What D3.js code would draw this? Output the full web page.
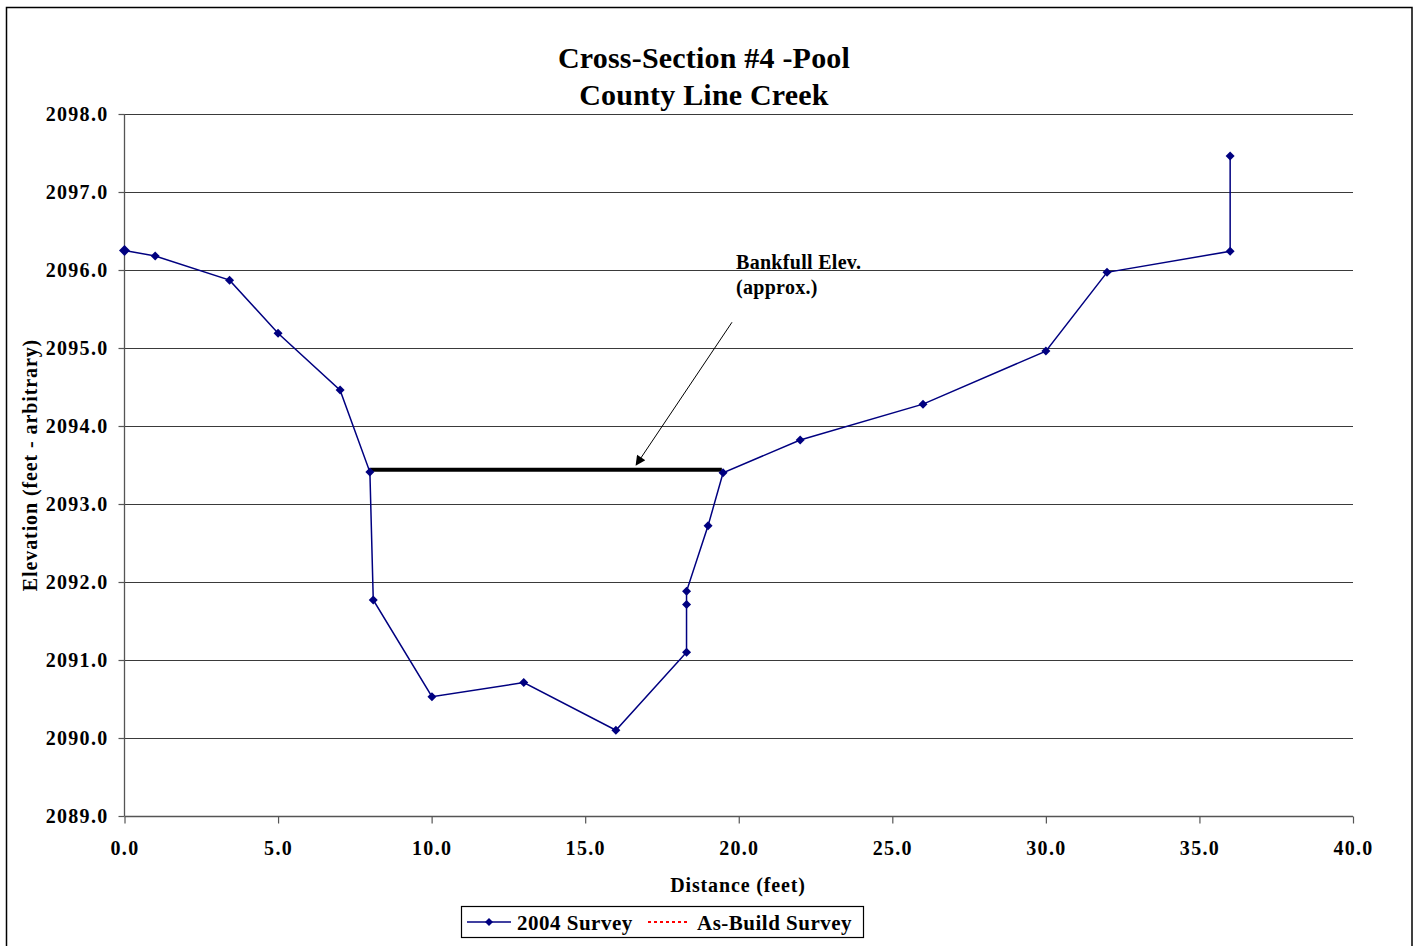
<!DOCTYPE html>
<html>
<head>
<meta charset="utf-8">
<script src="https://cdn.jsdelivr.net/npm/d3@7"></script>
<style>
  html, body { margin: 0; padding: 0; background: #fff; }
  svg { display: block; font-family: "Liberation Serif", "Times New Roman", serif; }
</style>
</head>
<body>
<svg id="chart" width="1417" height="946"></svg>
<script>
// Survey station distances (feet) and ground elevations (feet)
const distance2004 = [0.0, 1.0, 3.42, 5.0, 7.02, 7.99, 8.1, 10.01, 13.0, 16.0, 18.3, 18.3, 18.3, 19.0, 19.49, 22.0, 26.0, 30.0, 31.99, 36.0, 36.0];
const elevation2004 = [2096.25, 2096.18, 2095.87, 2095.19, 2094.46, 2093.41, 2091.77, 2090.53, 2090.71, 2090.10, 2091.10, 2091.71, 2091.88, 2092.72, 2093.40, 2093.82, 2094.28, 2094.96, 2095.97, 2096.24, 2097.46];
// As-built survey (no points recorded)
const distanceAsBuilt = [];
const elevationAsBuilt = [];

// Bankfull elevation line
const bankfullX = [8.0, 19.45];
const bankfullElev = 2093.44;

const xTicks = [0, 5, 10, 15, 20, 25, 30, 35, 40];
const yTicks = [2089, 2090, 2091, 2092, 2093, 2094, 2095, 2096, 2097, 2098];
const seriesNames = ["2004 Survey", "As-Build Survey"];

const svg = d3.select("#chart");
const m = { left: 124.5, right: 1353, top: 114, bottom: 816 };

// outer chart frame
svg.append("rect").attr("x", 6.5).attr("y", 7.5).attr("width", 1405.5).attr("height", 950)
  .attr("fill", "none").attr("stroke", "#000").attr("stroke-width", 1.5);

const x = d3.scaleLinear().domain([0, 40]).range([m.left, m.right]);
const y = d3.scaleLinear().domain([2089, 2098]).range([m.bottom, m.top]);

// horizontal gridlines
svg.append("g").selectAll("line").data(yTicks.filter(t => t > 2089)).join("line")
  .attr("x1", m.left).attr("x2", m.right)
  .attr("y1", d => Math.round(y(d)) + 0.5).attr("y2", d => Math.round(y(d)) + 0.5)
  .attr("stroke", "#3a3a3a").attr("stroke-width", 1);

// axes
const xAxis = d3.axisBottom(x).tickValues(xTicks).tickFormat(d3.format(".1f")).tickSize(7).tickPadding(17);
const yAxis = d3.axisLeft(y).tickValues(yTicks).tickFormat(d3.format(".1f")).tickSize(6).tickPadding(10);

const gx = svg.append("g").attr("transform", `translate(0,${m.bottom + 0.5})`).call(xAxis);
const gy = svg.append("g").attr("transform", `translate(${m.left},0)`).call(yAxis);
[gx, gy].forEach(g => {
  g.select(".domain").attr("stroke", "#555").attr("stroke-width", 1.3);
  g.selectAll(".tick line").attr("stroke", "#555").attr("stroke-width", 1.2);
  g.selectAll(".tick text").attr("fill", "#000")
    .style("font-family", "'Liberation Serif', serif").style("font-weight", "bold")
    .style("font-size", "20px").style("letter-spacing", "1.3px");
});
gy.select(".domain").attr("d", `M0,${m.bottom}V${m.top}`);
gx.select(".domain").attr("d", `M${m.left},0H${m.right}`);

// bankfull elevation line
svg.append("line")
  .attr("x1", x(bankfullX[0])).attr("x2", x(bankfullX[1]))
  .attr("y1", y(bankfullElev)).attr("y2", y(bankfullElev))
  .attr("stroke", "#000").attr("stroke-width", 4);

// 2004 survey line
const pts = distance2004.map((d, i) => [d, elevation2004[i]]);
const line = d3.line().x(d => x(d[0])).y(d => y(d[1]));
svg.append("path").datum(pts).attr("d", line)
  .attr("fill", "none").attr("stroke", "#000080").attr("stroke-width", 1.5);

const asBuilt = distanceAsBuilt.map((d, i) => [d, elevationAsBuilt[i]]);
svg.append("path").datum(asBuilt).attr("d", line)
  .attr("fill", "none").attr("stroke", "#ff0000").attr("stroke-width", 2).attr("stroke-dasharray", "3,3");

// square diamond marker
const diamondPath = r => `M0,${-r}L${r},0L0,${r}L${-r},0Z`;
svg.append("g").selectAll("path").data(pts).join("path")
  .attr("d", (d, i) => diamondPath(i === 0 ? 5.5 : 4.5))
  .attr("transform", d => `translate(${x(d[0])},${y(d[1])})`)
  .attr("fill", "#000080");

// annotation arrow
const defs = svg.append("defs");
defs.append("marker").attr("id", "arrowhead").attr("viewBox", "0 0 10 10")
  .attr("refX", 9).attr("refY", 5).attr("markerWidth", 14).attr("markerHeight", 10)
  .attr("markerUnits", "userSpaceOnUse").attr("orient", "auto")
  .append("path").attr("d", "M0,0L10,5L0,10Z").attr("fill", "#000");
svg.append("line")
  .attr("x1", x(19.78)).attr("y1", y(2095.33))
  .attr("x2", x(16.66)).attr("y2", y(2093.5))
  .attr("stroke", "#000").attr("stroke-width", 1)
  .attr("marker-end", "url(#arrowhead)");

const ann = svg.append("text")
  .style("font-weight", "bold").style("font-size", "20px").style("letter-spacing", "0.3px");
ann.append("tspan").attr("x", 736).attr("y", 269).text("Bankfull Elev.");
ann.append("tspan").attr("x", 736).attr("y", 294).text("(approx.)");

// title
const title = svg.append("text").attr("text-anchor", "middle")
  .style("font-weight", "bold").style("font-size", "30px").style("letter-spacing", "0.2px");
title.append("tspan").attr("x", 704).attr("y", 68).text("Cross-Section #4 -Pool");
title.append("tspan").attr("x", 704).attr("y", 105).text("County Line Creek");

// axis titles
svg.append("text").attr("x", 738).attr("y", 892).attr("text-anchor", "middle")
  .style("font-weight", "bold").style("font-size", "20px").style("letter-spacing", "0.85px")
  .text("Distance (feet)");
svg.append("text").attr("transform", "translate(37,465) rotate(-90)").attr("text-anchor", "middle")
  .style("font-weight", "bold").style("font-size", "20px").style("letter-spacing", "0.9px")
  .text("Elevation (feet - arbitrary)");

// legend
const lg = svg.append("g");
lg.append("rect").attr("x", 461.5).attr("y", 906.5).attr("width", 402).attr("height", 31)
  .attr("fill", "#fff").attr("stroke", "#000").attr("stroke-width", 1.2);
lg.append("line").attr("x1", 467).attr("x2", 511).attr("y1", 922).attr("y2", 922)
  .attr("stroke", "#000080").attr("stroke-width", 1.5);
lg.append("path").attr("d", diamondPath(4))
  .attr("transform", "translate(489,922)").attr("fill", "#000080");
lg.append("text").attr("x", 517).attr("y", 930).style("font-weight", "bold")
  .style("font-size", "21px").style("letter-spacing", "0.5px").text(seriesNames[0]);
lg.append("line").attr("x1", 648).attr("x2", 690).attr("y1", 922).attr("y2", 922)
  .attr("stroke", "#ff0000").attr("stroke-width", 2).attr("stroke-dasharray", "3,3");
lg.append("text").attr("x", 697).attr("y", 930).style("font-weight", "bold")
  .style("font-size", "21px").style("letter-spacing", "0.5px").text(seriesNames[1]);
</script>
</body>
</html>
